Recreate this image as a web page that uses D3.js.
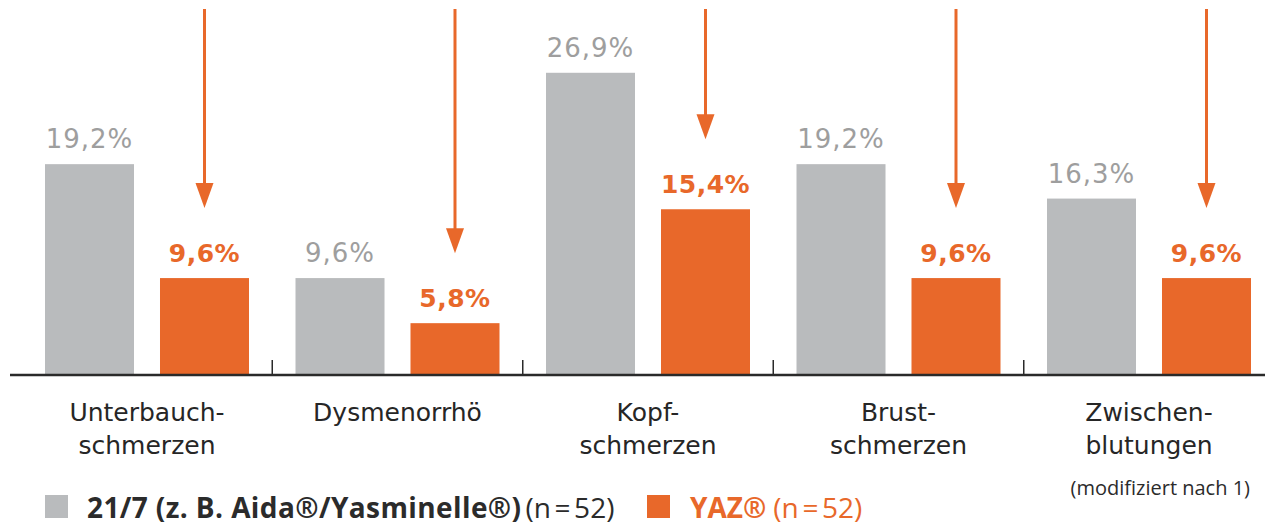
<!DOCTYPE html>
<html>
<head>
<meta charset="utf-8">
<script src="https://cdn.jsdelivr.net/npm/d3@7"></script>
<style>
  body { margin: 0; background: #fff; }
</style>
</head>
<body>
<div id="chart"></div>
<script>
// data
var categories = [["Unterbauch-", "schmerzen"], ["Dysmenorrhö"], ["Kopf-", "schmerzen"], ["Brust-", "schmerzen"], ["Zwischen-", "blutungen"]];
var seriesNames = ["21/7", "YAZ"];
var values217 = [19.2, 9.6, 26.9, 19.2, 16.3];
var valuesYaz = [9.6, 5.8, 15.4, 9.6, 9.6];
var valueLabels217 = ["19,2%", "9,6%", "26,9%", "19,2%", "16,3%"];
var valueLabelsYaz = ["9,6%", "5,8%", "15,4%", "9,6%", "9,6%"];

var svgWidth = 1265;
var svgHeight = 525;
var baseY = 375;

var grey = "#b9bbbd";
var orange = "#e8682a";

var svg = d3.select("#chart")
  .append("svg")
  .attr("width", svgWidth)
  .attr("height", svgHeight);

var keys = categories.map(function(c) { return c.join(""); });

// group scale and scale within a group
var x0 = d3.scaleBand()
  .domain(keys)
  .range([21.75, 1274.25]);

var x1 = d3.scaleBand()
  .domain(seriesNames)
  .range([23.25, 227.25])
  .paddingInner(0.226);

var yScale = d3.scaleLinear()
  .domain([0, 30])
  .range([392, 36]);

var rows = keys.map(function(k, i) {
  return { key: k, lines: categories[i], a: values217[i], b: valuesYaz[i], la: valueLabels217[i], lb: valueLabelsYaz[i] };
});

var groups = svg.selectAll(".grp")
  .data(rows)
  .enter()
  .append("g")
  .attr("class", "grp")
  .attr("transform", d => `translate(${x0(d.key)},0)`);

// grey bars
groups.append("rect")
  .attr("x", x1("21/7"))
  .attr("y", d => yScale(d.a))
  .attr("width", x1.bandwidth())
  .attr("height", d => baseY - yScale(d.a))
  .attr("fill", grey);

// orange bars
groups.append("rect")
  .attr("x", x1("YAZ"))
  .attr("y", d => yScale(d.b))
  .attr("width", x1.bandwidth())
  .attr("height", d => baseY - yScale(d.b))
  .attr("fill", orange);

// value labels
groups.append("text")
  .attr("x", x1("21/7") + x1.bandwidth() / 2)
  .attr("y", d => yScale(d.a) - 16)
  .attr("text-anchor", "middle")
  .style("font-family", "DejaVu Sans")
  .style("font-size", "26px")
  .style("letter-spacing", "1px")
  .style("fill", "#9e9e9e")
  .text(d => d.la);

groups.append("text")
  .attr("x", x1("YAZ") + x1.bandwidth() / 2)
  .attr("y", d => yScale(d.b) - 16)
  .attr("text-anchor", "middle")
  .style("font-family", "DejaVu Sans")
  .style("font-weight", "bold")
  .style("font-size", "25px")
  .style("letter-spacing", "0.5px")
  .style("fill", orange)
  .text(d => d.lb);

// arrows down to the YAZ bars
var arrowX = x1("YAZ") + x1.bandwidth() / 2;
groups.append("line")
  .attr("x1", arrowX)
  .attr("x2", arrowX)
  .attr("y1", 9)
  .attr("y2", d => yScale(d.b) - 90)
  .attr("stroke", orange)
  .attr("stroke-width", 3);

groups.append("path")
  .attr("d", d => {
    var tip = yScale(d.b) - 70;
    return `M${arrowX - 9},${tip - 25}L${arrowX + 9},${tip - 25}L${arrowX},${tip}Z`;
  })
  .attr("fill", orange);

// category labels
groups.each(function(d) {
  var t = d3.select(this).append("text")
    .attr("x", x0.bandwidth() / 2)
    .attr("text-anchor", "middle")
    .style("font-family", "DejaVu Sans")
    .style("font-size", "25px")
    .style("fill", "#262626");
  d.lines.forEach(function(line, i) {
    t.append("tspan")
      .attr("x", x0.bandwidth() / 2)
      .attr("y", 421 + i * 33)
      .text(line);
  });
});

// baseline and small separators
svg.append("line")
  .attr("x1", 10)
  .attr("x2", svgWidth)
  .attr("y1", baseY)
  .attr("y2", baseY)
  .attr("stroke", "#2a2a2a")
  .attr("stroke-width", 2.5);

svg.selectAll(".sep")
  .data(keys.slice(1))
  .enter()
  .append("line")
  .attr("class", "sep")
  .attr("x1", d => x0(d))
  .attr("x2", d => x0(d))
  .attr("y1", baseY - 15)
  .attr("y2", baseY)
  .attr("stroke", "#2a2a2a")
  .attr("stroke-width", 1.5);

// legend
var legend = svg.append("g").attr("class", "legend");

legend.append("rect")
  .attr("x", 45).attr("y", 495)
  .attr("width", 23).attr("height", 23)
  .attr("fill", grey);

var lt1 = legend.append("text")
  .attr("x", 87).attr("y", 518)
  .style("font-family", "Open Sans")
  .style("font-size", "28px")
  .style("fill", "#2b2b2b");
lt1.append("tspan").style("font-weight", "bold").style("letter-spacing", "0.4px").text("21/7 (z. B. Aida®/Yasminelle®)");
lt1.append("tspan").attr("dx", 4).text("(n\u202F=\u202F52)");

legend.append("rect")
  .attr("x", 647).attr("y", 495)
  .attr("width", 23).attr("height", 23)
  .attr("fill", orange);

var lt2 = legend.append("text")
  .attr("x", 690).attr("y", 518)
  .style("font-family", "Open Sans")
  .style("font-size", "28px")
  .style("fill", orange);
lt2.append("tspan").style("font-weight", "bold").text("YAZ®");
lt2.append("tspan").attr("dx", 7).text("(n\u202F=\u202F52)");

svg.append("text")
  .attr("x", 1250).attr("y", 495)
  .attr("text-anchor", "end")
  .style("font-family", "Open Sans")
  .style("font-size", "20px")
  .style("fill", "#2b2b2b")
  .text("(modifiziert nach 1)");
</script>
</body>
</html>
